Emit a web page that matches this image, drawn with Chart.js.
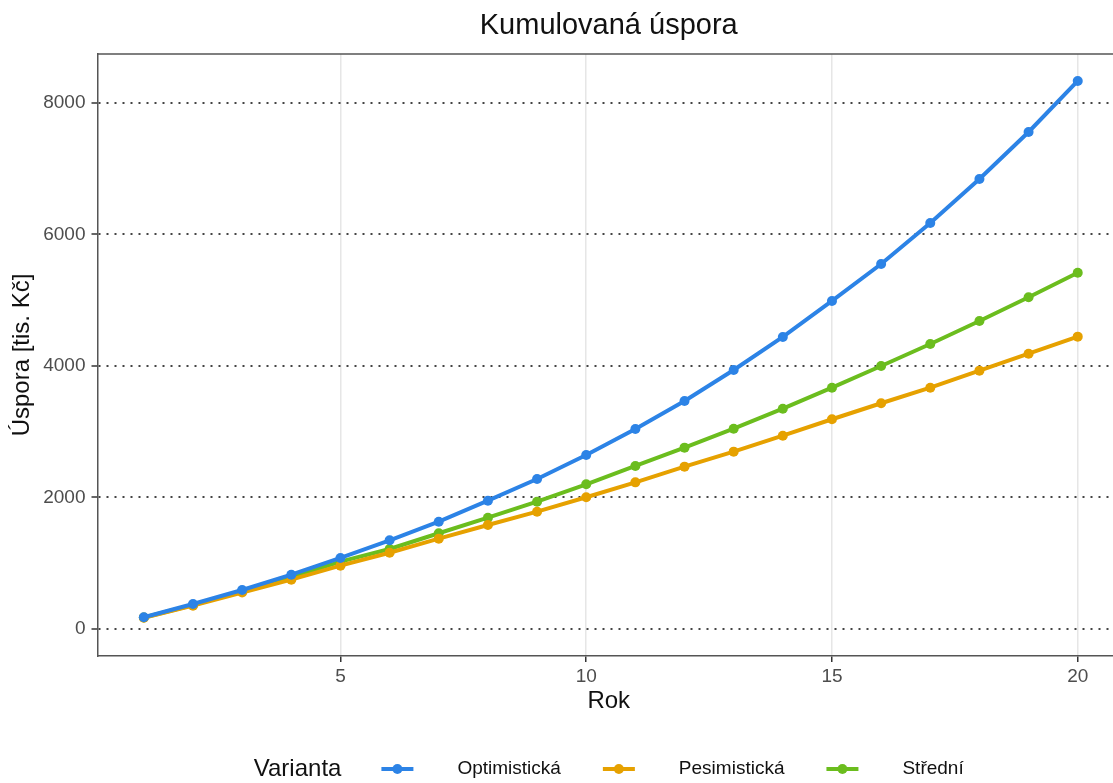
<!DOCTYPE html>
<html lang="cs">
<head>
  <meta charset="UTF-8">
  <title>Kumulovaná úspora</title>
  <script src="https://cdn.jsdelivr.net/npm/chart.js"></script>
  <style>
    body {
      margin: 0;
      overflow: hidden;
      background: #fff;
    }
  </style>
</head>
<body>
  <canvas id="chart" width="1125" height="783"></canvas>

  <script>
    // data
    const years = [1, 2, 3, 4, 5, 6, 7, 8, 9, 10, 11, 12, 13, 14, 15, 16, 17, 18, 19, 20];
    const optimisticka = [178, 380, 593, 826, 1080, 1349, 1632, 1951, 2281, 2646, 3042, 3468, 3939, 4441, 4989, 5551, 6175, 6844, 7559, 8335];
    const pesimisticka = [170, 355, 555, 750, 963, 1160, 1374, 1582, 1784, 2003, 2230, 2469, 2697, 2940, 3190, 3433, 3670, 3929, 4187, 4446];
    const stredni = [175, 365, 575, 785, 1024, 1217, 1456, 1693, 1936, 2201, 2479, 2758, 3046, 3350, 3670, 4000, 4335, 4685, 5045, 5419];
    const seriesNames = ['Optimistická', 'Pesimistická', 'Střední'];
    const seriesColors = ['#2c83e6', '#e6a100', '#6bbd1e'];
    const xTicks = [5, 10, 15, 20];
    const yTicks = [0, 2000, 4000, 6000, 8000];

    const FONT = "'Liberation Sans', Arial, sans-serif";
    Chart.defaults.font.family = FONT;

    const toPoints = vals => vals.map((v, i) => ({ x: years[i], y: v }));

    const datasets = [optimisticka, pesimisticka, stredni].map((vals, i) => ({
      label: seriesNames[i],
      data: toPoints(vals),
      borderColor: seriesColors[i],
      backgroundColor: seriesColors[i],
      borderWidth: 4,
      pointRadius: 5,
      pointBorderWidth: 0,
      tension: 0
    }));

    // title, top border of the panel and the ggplot-style legend
    const decor = {
      id: 'decor',
      afterDraw(chart) {
        const { ctx, chartArea } = chart;
        const cx = (chartArea.left + chartArea.right) / 2;
        ctx.save();

        ctx.strokeStyle = '#555';
        ctx.lineWidth = 1.5;
        ctx.beginPath();
        ctx.moveTo(chartArea.left, chartArea.top);
        ctx.lineTo(chartArea.right, chartArea.top);
        ctx.stroke();

        ctx.fillStyle = '#111';
        ctx.font = '29px ' + FONT;
        ctx.textAlign = 'center';
        ctx.textBaseline = 'alphabetic';
        ctx.fillText('Kumulovaná úspora', cx, 34);

        // legend
        const ly = 769;
        const keyW = 32, gapTitle = 40, gapKey = 44, gapItem = 42;
        ctx.font = '24px ' + FONT;
        const titleW = ctx.measureText('Varianta').width;
        ctx.font = '19px ' + FONT;
        const labelW = seriesNames.map(n => ctx.measureText(n).width);
        let total = titleW + gapTitle;
        labelW.forEach((w, i) => {
          total += keyW + gapKey + w + (i < labelW.length - 1 ? gapItem : 0);
        });
        let x = cx - total / 2;
        ctx.textAlign = 'left';
        ctx.textBaseline = 'middle';
        ctx.fillStyle = '#111';
        ctx.font = '24px ' + FONT;
        ctx.fillText('Varianta', x, ly);
        x += titleW + gapTitle;
        ctx.font = '19px ' + FONT;
        seriesNames.forEach((name, i) => {
          ctx.strokeStyle = seriesColors[i];
          ctx.fillStyle = seriesColors[i];
          ctx.lineWidth = 4;
          ctx.beginPath();
          ctx.moveTo(x, ly);
          ctx.lineTo(x + keyW, ly);
          ctx.stroke();
          ctx.beginPath();
          ctx.arc(x + keyW / 2, ly, 5, 0, Math.PI * 2);
          ctx.fill();
          x += keyW + gapKey;
          ctx.fillStyle = '#111';
          ctx.fillText(name, x, ly);
          x += labelW[i] + gapItem;
        });
        ctx.restore();
      }
    };

    new Chart(document.getElementById('chart').getContext('2d'), {
      type: 'line',
      data: { datasets },
      options: {
        responsive: false,
        animation: false,
        layout: { padding: { top: 54, bottom: 60, left: 0, right: 0 } },
        plugins: {
          legend: { display: false },
          title: { display: false },
          tooltip: { enabled: false }
        },
        scales: {
          x: {
            type: 'linear',
            min: 0.057,
            max: 20.86,
            afterBuildTicks: s => { s.ticks = xTicks.map(v => ({ value: v })); },
            afterFit: s => { s.height = 67; },
            grid: { color: '#e6e6e6', lineWidth: 1.5, tickColor: '#333', tickWidth: 1.5, tickLength: 6 },
            border: { display: true, color: '#555', width: 1.5 },
            ticks: { color: '#4d4d4d', font: { size: 19 }, padding: 3, maxRotation: 0, callback: v => String(v) },
            title: { display: true, text: 'Rok', color: '#111', font: { size: 24 }, padding: { top: 0, bottom: 7 } }
          },
          y: {
            min: -411,
            max: 8745,
            afterBuildTicks: s => { s.ticks = yTicks.map(v => ({ value: v })); },
            afterFit: s => { s.width = 97.5; },
            grid: { color: '#444', lineWidth: 2, tickColor: '#333', tickWidth: 1.5, tickLength: 6 },
            border: { display: true, color: '#555', width: 1.5, dash: [2, 6] },
            ticks: { color: '#4d4d4d', font: { size: 19 }, padding: 6, callback: v => String(v) },
            title: { display: true, text: 'Úspora [tis. Kč]', color: '#111', font: { size: 24 }, padding: { top: 8, bottom: 0 } }
          }
        }
      },
      plugins: [decor]
    });
  </script>
</body>
</html>
